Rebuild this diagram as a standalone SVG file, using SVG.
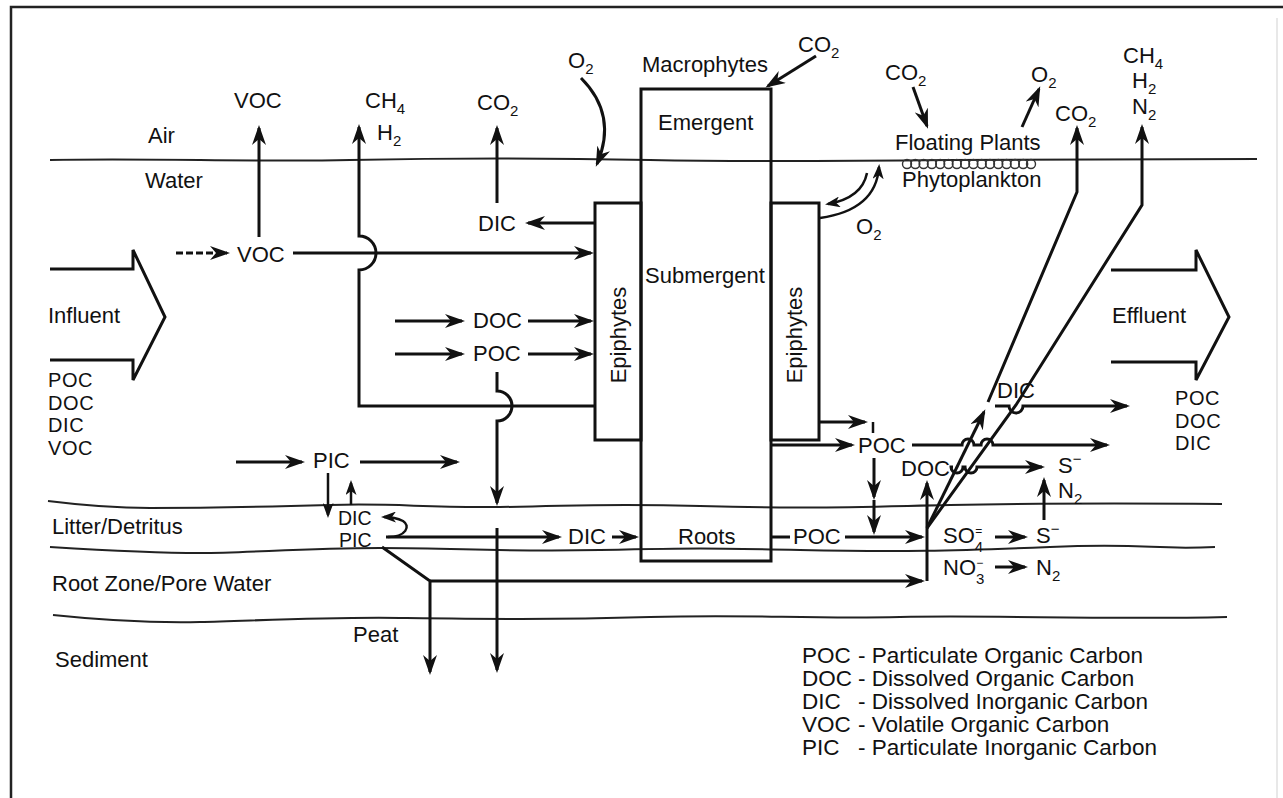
<svg xmlns="http://www.w3.org/2000/svg" width="1283" height="798" viewBox="0 0 1283 798">
<defs>
<marker id="ah" viewBox="0 0 20 14" refX="17" refY="7" markerWidth="20" markerHeight="14" markerUnits="userSpaceOnUse" orient="auto">
<path d="M0,0 L20,7 L0,14 L6,7 Z" fill="#111"/>
</marker>
<marker id="as" viewBox="0 0 15 11" refX="12" refY="5.5" markerWidth="15" markerHeight="11" markerUnits="userSpaceOnUse" orient="auto">
<path d="M0,0 L15,5.5 L0,11 L4,5.5 Z" fill="#111"/>
</marker>
<style>
text{font-family:"Liberation Sans",Arial,Helvetica,sans-serif;font-size:22px;fill:#111}
.sb{font-size:15px}
.ss{font-size:12px}
.sm{font-size:19.5px}
.li{font-size:20px;letter-spacing:0.6px}
.lg{font-size:22.5px}
.ln{fill:none;stroke:#111;stroke-width:3}
.th{fill:none;stroke:#111;stroke-width:2.5}
.bd{fill:none;stroke:#222;stroke-width:2}
.a{marker-end:url(#ah)}
.s{marker-end:url(#as)}
.box{fill:none;stroke:#111;stroke-width:3}
.pl{fill:none;stroke:#333;stroke-width:1.4}
</style>
</defs>
<rect x="0" y="0" width="1283" height="798" fill="#fff"/>
<path d="M11,798 V7 H1283" fill="none" stroke="#222" stroke-width="2.5"/>
<line x1="1277" y1="18" x2="1277" y2="798" stroke="#e8e8e8" stroke-width="2"/>

<g id="layers">
<path class="bd" d="M50,160 C150,158 250,162 350,160 S550,158 650,160 S850,161 950,160 S1150,159 1257,159"/>
<path class="bd" d="M48,501 C80,505 110,508 150,508 S260,507 330,505 S420,508 500,507 S600,503 700,506 S850,507 950,505 S1100,503 1222,504"/>
<path class="bd" d="M50,547 C100,550 150,553 200,553 S300,548 380,548 S500,552 600,550 S700,548 800,550 S950,551 1050,547 S1150,550 1215,547"/>
<path class="bd" d="M53,615 C100,620 150,623 200,622 S320,617 400,618 S550,620 650,617 S800,619 900,617 S1100,620 1227,617"/>
<text x="148" y="143">Air</text>
<text x="145" y="188">Water</text>
<text x="52" y="534">Litter/Detritus</text>
<text x="52" y="591">Root Zone/Pore Water</text>
<text x="55" y="667">Sediment</text>
<text x="353" y="642">Peat</text>
</g>

<g id="influent">
<path class="ln" d="M50,269 H133 V250 L165,317 L133,380 V360 H50"/>
<text x="48" y="323">Influent</text>
<text class="li"><tspan x="48" y="387">POC</tspan><tspan x="48" y="409.5">DOC</tspan><tspan x="48" y="432">DIC</tspan><tspan x="48" y="454.5">VOC</tspan></text>
</g>

<g id="effluent">
<path class="ln" d="M1111,270 H1196 V250 L1229,317 L1196,380 V362 H1111"/>
<text x="1112" y="323">Effluent</text>
<text class="li"><tspan x="1175" y="405">POC</tspan><tspan x="1175" y="427.5">DOC</tspan><tspan x="1175" y="450">DIC</tspan></text>
</g>

<g id="macrophytes">
<rect class="box" x="641" y="89" width="130" height="472"/>
<text x="642" y="72">Macrophytes</text>
<text x="658" y="130">Emergent</text>
<text x="645" y="283">Submergent</text>
<text x="678" y="544">Roots</text>
</g>

<g id="epiphytes-left">
<rect class="box" x="595" y="203" width="46" height="237"/>
<text transform="translate(618,335) rotate(-90)" text-anchor="middle" dominant-baseline="central">Epiphytes</text>
</g>

<g id="epiphytes-right">
<rect class="box" x="771" y="203" width="48" height="237"/>
<text transform="translate(794,335) rotate(-90)" text-anchor="middle" dominant-baseline="central">Epiphytes</text>
</g>

<g id="floating-plants">
<text x="895" y="150">Floating Plants</text>
<g class="pl">
<circle cx="907" cy="164" r="4.5"/><circle cx="915.3" cy="164" r="4.5"/><circle cx="923.6" cy="164" r="4.5"/><circle cx="931.9" cy="164" r="4.5"/>
<circle cx="940.2" cy="164" r="4.5"/><circle cx="948.5" cy="164" r="4.5"/><circle cx="956.8" cy="164" r="4.5"/><circle cx="965.1" cy="164" r="4.5"/>
<circle cx="973.4" cy="164" r="4.5"/><circle cx="981.7" cy="164" r="4.5"/><circle cx="990" cy="164" r="4.5"/><circle cx="998.3" cy="164" r="4.5"/>
<circle cx="1006.6" cy="164" r="4.5"/><circle cx="1014.9" cy="164" r="4.5"/><circle cx="1023.2" cy="164" r="4.5"/><circle cx="1031" cy="164" r="4.5"/>
</g>
<text x="902" y="187">Phytoplankton</text>
</g>

<g id="gases">
<text x="234" y="108">VOC</text>
<text x="365" y="108">CH<tspan class="sb" dy="6">4</tspan></text>
<text x="377" y="140">H<tspan class="sb" dy="6">2</tspan></text>
<text x="477" y="110">CO<tspan class="sb" dy="6">2</tspan></text>
<text x="568" y="68">O<tspan class="sb" dy="6">2</tspan></text>
<text x="798" y="52">CO<tspan class="sb" dy="6">2</tspan></text>
<text x="885" y="80">CO<tspan class="sb" dy="6">2</tspan></text>
<text x="1031" y="82">O<tspan class="sb" dy="6">2</tspan></text>
<text x="1055" y="121">CO<tspan class="sb" dy="6">2</tspan></text>
<text x="1123" y="63">CH<tspan class="sb" dy="6">4</tspan></text>
<text x="1132" y="88">H<tspan class="sb" dy="6">2</tspan></text>
<text x="1132" y="114">N<tspan class="sb" dy="6">2</tspan></text>
<text x="856" y="234">O<tspan class="sb" dy="6">2</tspan></text>
</g>

<g id="pools">
<text x="478" y="231">DIC</text>
<text x="237" y="262">VOC</text>
<text x="473" y="328">DOC</text>
<text x="473" y="361">POC</text>
<text x="313" y="468">PIC</text>
<text class="sm" x="338" y="525">DIC</text>
<text class="sm" x="339" y="547">PIC</text>
<text x="568" y="544">DIC</text>
<text x="793" y="544">POC</text>
<text x="858" y="453">POC</text>
<text x="901" y="476">DOC</text>
<text x="997" y="398">DIC</text>
<text x="1058" y="473">S<tspan class="sb" dy="-9">−</tspan></text>
<text x="1058" y="498">N<tspan class="sb" dy="6">2</tspan></text>
<text x="943" y="543">SO<tspan class="sb" dy="9">4</tspan><tspan class="ss" dx="-8" dy="-17">=</tspan></text>
<text x="1036" y="543">S<tspan class="sb" dy="-9">−</tspan></text>
<text x="943" y="575">NO<tspan class="sb" dy="9">3</tspan><tspan class="ss" dx="-8" dy="-17">−</tspan></text>
<text x="1036" y="575">N<tspan class="sb" dy="6">2</tspan></text>
</g>

<g id="legend">
<text class="lg" y="663"><tspan x="802">POC</tspan><tspan x="858">- Particulate Organic Carbon</tspan></text>
<text class="lg" y="686"><tspan x="802">DOC</tspan><tspan x="858">- Dissolved Organic Carbon</tspan></text>
<text class="lg" y="709"><tspan x="802">DIC</tspan><tspan x="858">- Dissolved Inorganic Carbon</tspan></text>
<text class="lg" y="732"><tspan x="802">VOC</tspan><tspan x="858">- Volatile Organic Carbon</tspan></text>
<text class="lg" y="755"><tspan x="802">PIC</tspan><tspan x="858">- Particulate Inorganic Carbon</tspan></text>
</g>

<g id="connectors">
<path class="ln a" d="M259,237 V128"/>
<path class="ln a" d="M176,253 H227" stroke-dasharray="7,3"/>
<path class="ln a" d="M293,253 H591"/>
<path class="ln a" d="M595,406 H359 V270 A17,17 0 0 0 359,236 V127"/>
<path class="ln a" d="M497,203 V128"/>
<path class="ln a" d="M595,223 H528"/>
<path class="ln a" d="M395,321 H462"/>
<path class="ln a" d="M528,321 H591"/>
<path class="ln a" d="M395,354 H462"/>
<path class="ln a" d="M528,354 H591"/>
<path class="ln a" d="M497,372 V391 A15,15 0 0 1 497,421 V503"/>
<path class="ln a" d="M497,528 V670"/>
<path class="ln a" d="M236,462 H302"/>
<path class="ln a" d="M360,462 H457"/>
<path class="th s" d="M328,473 V515"/>
<path class="th s" d="M351,505 V483"/>
<path class="th s" d="M388,537 C406,537 411,526 403,521 C397,518 391,517 384,517"/>
<path class="ln a" d="M386,537 H559"/>
<path class="ln a" d="M612,537 H636"/>
<path class="ln a" d="M382,547 L430,581 V672"/>
<path class="ln a" d="M430,581 H922"/>
<path class="ln a" d="M927,581 V483"/>
<path class="ln" d="M771,537 H790"/>
<path class="ln a" d="M845,537 H922"/>
<path class="ln a" d="M874,458 V497"/>
<path class="ln a" d="M874,500 V532"/>
<path class="ln a" d="M820,422 H865"/>
<path class="th" d="M873,422 V433"/>
<path class="ln a" d="M772,445 H852"/>
<path class="ln a" d="M912,445 H962 A6,6 0 0 1 974,445 H981 A6,6 0 0 1 993,445 H1107"/>
<path class="ln a" d="M953,467 H951 A6,6 0 0 0 963,467 H965 A6,6 0 0 0 977,467 H1042"/>
<path class="ln a" d="M1044,520 V480"/>
<path class="ln a" d="M995,537 H1025"/>
<path class="ln a" d="M995,567 H1025"/>
<path class="ln a" d="M927,528 L984,412"/>
<path class="ln a" d="M988,402 L1077,192 V128"/>
<path class="ln a" d="M927,528 L1016,405 L1142,205 V127"/>
<path class="ln a" d="M995,406 H1009 A7,7 0 0 0 1023,406 H1127"/>
<path class="ln a" d="M581,78 Q618,115 597,164"/>
<path class="ln a" d="M816,56 L768,86"/>
<path class="ln a" d="M913,87 L927,126"/>
<path class="ln a" d="M1022,127 L1039,89"/>
<path class="th s" d="M867,173 Q862,198 828,204"/>
<path class="th s" d="M820,218 Q876,210 879,167"/>
</g>
</svg>
